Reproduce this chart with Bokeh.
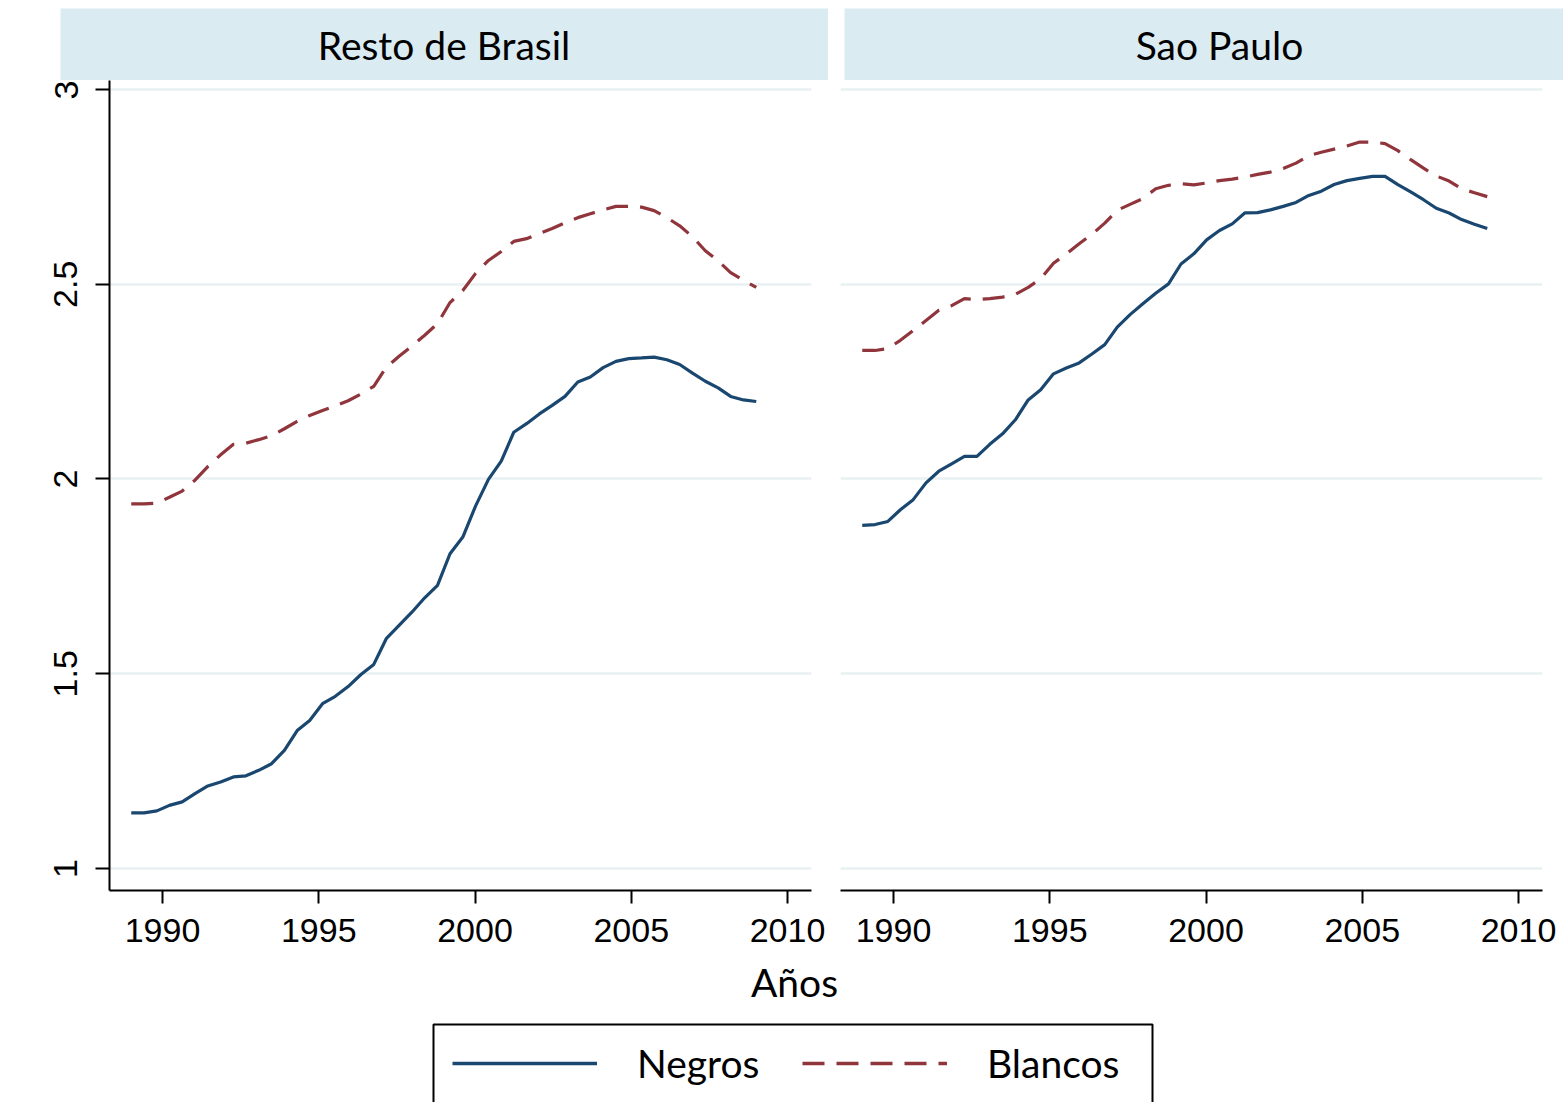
from bokeh.plotting import figure
from bokeh.layouts import column, row
from bokeh.models import Range1d, FixedTicker, Label, Legend, LegendItem, BoxAnnotation
from bokeh.embed import file_html
from bokeh.resources import INLINE

# ---------------- data ----------------
years = [1989.00, 1989.41, 1989.82, 1990.22, 1990.63, 1991.04, 1991.45, 1991.86, 1992.27, 1992.67,
         1993.08, 1993.49, 1993.90, 1994.31, 1994.71, 1995.12, 1995.53, 1995.94, 1996.35, 1996.76,
         1997.16, 1997.57, 1997.98, 1998.39, 1998.80, 1999.20, 1999.61, 2000.02, 2000.43, 2000.84,
         2001.24, 2001.65, 2002.06, 2002.47, 2002.88, 2003.29, 2003.69, 2004.10, 2004.51, 2004.92,
         2005.33, 2005.73, 2006.14, 2006.55, 2006.96, 2007.37, 2007.78, 2008.18, 2008.59, 2009.00]

resto_negros = [1.143, 1.143, 1.148, 1.162, 1.171, 1.192, 1.212, 1.222, 1.235, 1.238,
                1.252, 1.269, 1.303, 1.354, 1.380, 1.423, 1.442, 1.467, 1.498, 1.524,
                1.590, 1.624, 1.658, 1.695, 1.727, 1.808, 1.851, 1.931, 1.999, 2.046,
                2.120, 2.142, 2.167, 2.189, 2.212, 2.249, 2.262, 2.286, 2.302, 2.309,
                2.311, 2.313, 2.306, 2.294, 2.272, 2.251, 2.234, 2.212, 2.203, 2.199]

resto_blancos = [1.936, 1.936, 1.938, 1.953, 1.969, 1.997, 2.032, 2.062, 2.089, 2.092,
                 2.101, 2.111, 2.129, 2.148, 2.163, 2.176, 2.188, 2.201, 2.218, 2.238,
                 2.287, 2.315, 2.341, 2.369, 2.399, 2.453, 2.484, 2.528, 2.561, 2.584,
                 2.610, 2.617, 2.630, 2.643, 2.658, 2.671, 2.681, 2.691, 2.700, 2.700,
                 2.698, 2.689, 2.671, 2.650, 2.622, 2.586, 2.560, 2.530, 2.510, 2.492]

sp_negros = [1.881, 1.883, 1.891, 1.921, 1.947, 1.990, 2.020, 2.039, 2.058, 2.058,
             2.089, 2.116, 2.152, 2.203, 2.229, 2.270, 2.285, 2.298, 2.321, 2.345,
             2.390, 2.422, 2.450, 2.477, 2.501, 2.552, 2.578, 2.614, 2.638, 2.655,
             2.683, 2.684, 2.691, 2.700, 2.710, 2.728, 2.739, 2.756, 2.766, 2.772,
             2.777, 2.777, 2.756, 2.737, 2.717, 2.695, 2.683, 2.666, 2.654, 2.643]

sp_blancos = [2.330, 2.330, 2.335, 2.356, 2.381, 2.407, 2.433, 2.445, 2.463, 2.461,
              2.463, 2.467, 2.474, 2.492, 2.514, 2.554, 2.578, 2.604, 2.628, 2.657,
              2.690, 2.705, 2.720, 2.745, 2.754, 2.758, 2.755, 2.760, 2.766, 2.770,
              2.775, 2.782, 2.788, 2.797, 2.811, 2.830, 2.839, 2.847, 2.855, 2.865,
              2.865, 2.861, 2.843, 2.820, 2.798, 2.778, 2.765, 2.745, 2.735, 2.725]

panel_titles = ["Resto de Brasil", "Sao Paulo"]
series_names = ["Negros", "Blancos"]
x_label = "Años"
y_ticks = [1, 1.5, 2, 2.5, 3]
y_tick_labels = ["1", "1.5", "2", "2.5", "3"]
x_ticks = [1990, 1995, 2000, 2005, 2010]

# ---------------- style ----------------
BLUE = "#1a476f"
RED = "#90353b"
STRIP = "#daecf2"
GRID = "#e9f1f3"
TEXT_FONT = "Lato"
TICK_FONT = "Liberation Sans"
TEXT_SIZE = "39px"
TICK_SIZE = "34px"
LW = 3.2

X0, X1 = 1988.304, 2010.768
Y0, Y1 = 0.9435, 3.0231


def strip(width, left_border, frame_left, frame_right, title, title_x):
    h = figure(width=width, height=80, output_backend="svg", toolbar_location=None,
               x_axis_type=None, y_axis_type=None,
               x_range=Range1d(frame_left, frame_right), y_range=Range1d(80, 8),
               min_border_left=left_border, min_border_right=0,
               min_border_top=8, min_border_bottom=0)
    h.background_fill_color = STRIP
    h.border_fill_color = "white"
    h.outline_line_color = None
    h.xgrid.visible = False
    h.ygrid.visible = False
    h.add_layout(Label(x=title_x, y=44, text=title, text_align="center",
                       text_baseline="middle", text_font=TEXT_FONT,
                       text_font_size=TEXT_SIZE, text_color="black"))
    return h


def panel(width, left_border, right_border, negros, blancos, show_y):
    p = figure(width=width, height=875, output_backend="svg", toolbar_location=None,
               x_range=Range1d(X0, X1), y_range=Range1d(Y0, Y1),
               min_border_left=left_border, min_border_right=right_border,
               min_border_top=0, min_border_bottom=65)
    p.outline_line_color = None
    p.background_fill_color = "white"
    p.border_fill_color = "white"
    p.xgrid.visible = False
    p.ygrid.ticker = FixedTicker(ticks=y_ticks)
    p.ygrid.grid_line_color = GRID
    p.ygrid.grid_line_width = 2.5

    xa = p.xaxis[0]
    xa.ticker = FixedTicker(ticks=x_ticks)
    xa.axis_line_color = "black"
    xa.axis_line_width = 2
    xa.major_tick_line_color = "black"
    xa.major_tick_line_width = 2
    xa.major_tick_out = 13
    xa.major_tick_in = 0
    xa.minor_tick_line_color = None
    xa.major_label_text_font = TICK_FONT
    xa.major_label_text_font_size = TICK_SIZE
    xa.major_label_text_color = "black"
    xa.major_label_standoff = 15

    ya = p.yaxis[0]
    if show_y:
        ya.ticker = FixedTicker(ticks=y_ticks)
        ya.major_label_overrides = {t: s for t, s in zip(y_ticks, y_tick_labels)}
        ya.major_label_orientation = "vertical"
        ya.axis_line_color = "black"
        ya.axis_line_width = 2
        ya.major_tick_line_color = "black"
        ya.major_tick_line_width = 2
        ya.major_tick_out = 14
        ya.major_tick_in = 0
        ya.minor_tick_line_color = None
        ya.major_label_text_font = TICK_FONT
        ya.major_label_text_font_size = TICK_SIZE
        ya.major_label_text_color = "black"
        ya.major_label_standoff = 18
    else:
        ya.visible = False

    p.line(years, negros, line_color=BLUE, line_width=LW)
    p.line(years, blancos, line_color=RED, line_width=LW, line_dash="22 12")
    return p


h1 = strip(828, 60, 60, 828, panel_titles[0], 443.5)
h2 = strip(735, 16, 844, 1563, panel_titles[1], 1219)

p1 = panel(828, 109, 17, resto_negros, resto_blancos, True)
p2 = panel(735, 12, 21, sp_negros, sp_blancos, False)

# bottom area: x-axis title and legend (coordinates here are page pixels)
p3 = figure(width=1563, height=147, output_backend="svg", toolbar_location=None,
            x_axis_type=None, y_axis_type=None,
            x_range=Range1d(0, 1563), y_range=Range1d(1102, 955),
            min_border_left=0, min_border_right=0, min_border_top=0, min_border_bottom=0)
p3.outline_line_color = None
p3.xgrid.visible = False
p3.ygrid.visible = False
p3.add_layout(Label(x=794, y=981, text=x_label, text_align="center", text_baseline="middle",
                    text_font=TEXT_FONT, text_font_size=TEXT_SIZE, text_color="black"))

# legend frame
p3.add_layout(BoxAnnotation(left=433, right=1152, top=1024, bottom=1115,
                            fill_color="white", fill_alpha=1.0,
                            line_color="black", line_alpha=1.0, line_width=2))

# legend renderers: the series themselves, which fall outside this strip's ranges
r_neg = p3.line(years, resto_negros, line_color=BLUE, line_width=3.5)
r_bla = p3.line(years, resto_blancos, line_color=RED, line_width=3.5, line_dash="22 12")
legend = Legend(items=[LegendItem(label=series_names[0], renderers=[r_neg]),
                       LegendItem(label=series_names[1], renderers=[r_bla])],
                orientation="horizontal", location=(452, 16),
                glyph_width=145, glyph_height=40, label_height=40, label_width=125,
                label_standoff=40, spacing=40, padding=0, margin=0,
                label_text_font=TEXT_FONT, label_text_font_size=TEXT_SIZE,
                label_text_color="black", label_text_baseline="middle",
                border_line_color=None, background_fill_alpha=0.0)
p3.add_layout(legend)

layout = column(row(h1, h2, spacing=0), row(p1, p2, spacing=0), p3, spacing=0)

with open("out.html", "w") as f:
    f.write(file_html(layout, INLINE))
